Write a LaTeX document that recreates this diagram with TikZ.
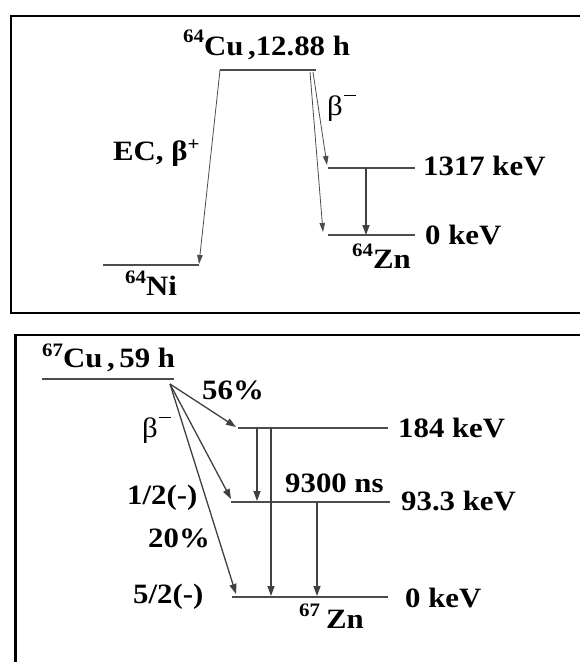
\documentclass[tikz,border=0pt]{standalone}
\usepackage{fontspec}
\setmainfont{Liberation Serif}[FakeStretch=1.1]
\usetikzlibrary{arrows.meta}
\newcommand\isot[2][12pt]{\raisebox{#1}{\fontsize{19}{19}\selectfont #2}}
\newcommand\bminus{\textmd{β}\hspace{1pt}\raisebox{19pt}{\rule{12pt}{1.3pt}}}
\begin{document}
\begin{tikzpicture}[x=1pt,y=-1pt,
  lvl/.style={line width=2.6pt, draw=black!70},
  decA/.style={line width=1.3pt, draw=black!75, -{Triangle[length=10pt,width=7pt]}},
  decB/.style={line width=0.8pt, draw=black!70, -{Triangle[length=9pt,width=5.5pt]}},
  lab/.style={inner sep=0pt, anchor=base west, font=\fontsize{28}{28}\selectfont\bfseries},
  frame/.style={line width=2.6pt, draw=black}]
\useasboundingbox (0,0) rectangle (579,662);
% frames
\draw[frame] (11,16) rectangle (600,313);
\draw[frame] (15.5,335) rectangle (600,690);

% ---------- 64Cu ----------
\coordinate (cuL) at (220,70);  \coordinate (cuR) at (316,70);
\coordinate (niL) at (103,265); \coordinate (niR) at (199,265);
\coordinate (aL) at (328,168);  \coordinate (aR) at (415,168);
\coordinate (bL) at (328,235);  \coordinate (bR) at (415,235);
\coordinate (b1s) at (313,72);  \coordinate (b1e) at (327,165);
\coordinate (b2s) at (310,72);  \coordinate (b2e) at (323,232);
\coordinate (g1s) at (366,168); \coordinate (g1e) at (366,235);
\coordinate (niT) at (199,264);

\draw[lvl] (cuL) -- (cuR);
\draw[lvl] (niL) -- (niR);
\draw[lvl] (aL) -- (aR);
\draw[lvl] (bL) -- (bR);
\draw[decB] (cuL) -- (niT);
\draw[decB] (b1s) -- (b1e);
\draw[decB] (b2s) -- (b2e);
\draw[decA] (g1s) -- (g1e);

\node[lab] (cu64) at (183,55) {\isot[13pt]{64}Cu\,,12.88 h};
\node[lab] (ni64) at (125,295) {\isot{64}Ni};
\node[lab] (ec) at (113,160) {EC, β\isot[10pt]{+}};
\node[lab] (bm1) at (327,115) {\bminus};
\node[lab] (e1317) at (423,175) {1317 keV};
\node[lab] (e0a) at (425,244) {0 keV};
\node[lab] (zn64) at (352,268) {\isot{64}Zn};

% ---------- 67Cu ----------
\coordinate (cL) at (42,379);  \coordinate (cR) at (174,379);
\coordinate (s) at (170,384);
\coordinate (pL) at (238,428); \coordinate (pR) at (388,428);
\coordinate (qL) at (231,502); \coordinate (qR) at (390,502);
\coordinate (rL) at (232,597); \coordinate (rR) at (388,597);
\coordinate (t1) at (236,427); \coordinate (t2) at (231,499); \coordinate (t3) at (236,594);
\coordinate (h1s) at (257,428); \coordinate (h1e) at (257,501);
\coordinate (h2s) at (271,428); \coordinate (h2e) at (271,596);
\coordinate (h3s) at (317,502); \coordinate (h3e) at (317,596);

\draw[lvl] (cL) -- (cR);
\draw[lvl] (pL) -- (pR);
\draw[lvl] (qL) -- (qR);
\draw[lvl] (rL) -- (rR);
\draw[decA] (s) -- (t1);
\draw[decA] (s) -- (t2);
\draw[decA] (s) -- (t3);
\draw[decA] (h1s) -- (h1e);
\draw[decA] (h2s) -- (h2e);
\draw[decA] (h3s) -- (h3e);

\node[lab] (cu67) at (42,367) {\isot[11pt]{67}Cu\,,\,59 h};
\node[lab] (p56) at (202,399) {56\%};
\node[lab] (bm2) at (142,437) {\bminus};
\node[lab] (e184) at (398,437) {184 keV};
\node[lab] (e93) at (401,510) {93.3 keV};
\node[lab] (e0b) at (405,607) {0 keV};
\node[lab] (j1) at (127,504) {1/2(-)};
\node[lab] (p20) at (148,547) {20\%};
\node[lab] (j5) at (133,603) {5/2(-)};
\node[lab] (ns) at (285,492) {9300 ns};
\node[lab] (zn67) at (299,628) {\isot{67}\hspace{6pt}Zn};
\end{tikzpicture}
\end{document}
